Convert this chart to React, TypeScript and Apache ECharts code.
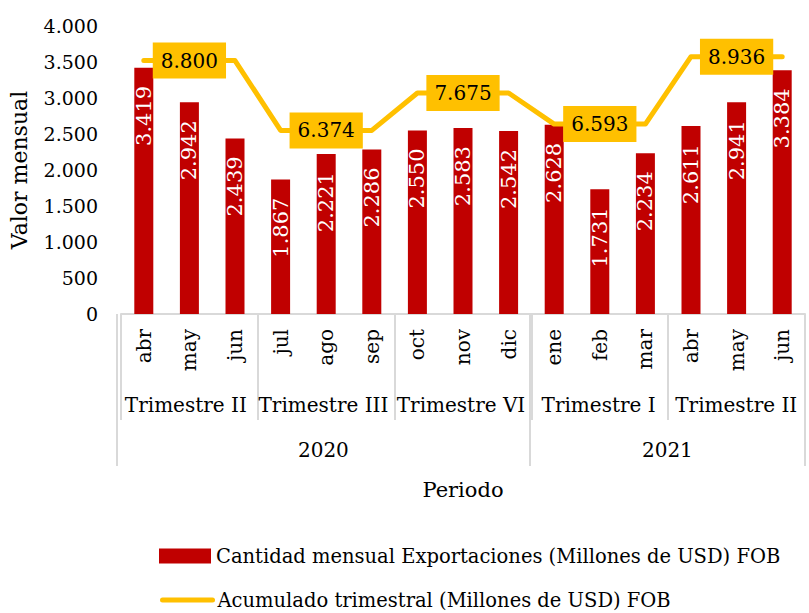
import React, { useEffect, useRef } from 'react';
import * as echarts from 'echarts';

const months = ['abr', 'may', 'jun', 'jul', 'ago', 'sep', 'oct', 'nov', 'dic', 'ene', 'feb', 'mar', 'abr', 'may', 'jun'];
const monthlyExports = [3419, 2942, 2439, 1867, 2221, 2286, 2550, 2583, 2542, 2628, 1731, 2234, 2611, 2941, 3384];
const quarters = ['Trimestre II', 'Trimestre III', 'Trimestre VI', 'Trimestre I', 'Trimestre II'];
const quarterTotals = [8800, 6374, 7675, 6593, 8936];
const years = ['2020', '2021'];
const yearMonthCounts = [9, 6];

const barName = 'Cantidad mensual Exportaciones (Millones de USD) FOB';
const lineName = 'Acumulado trimestral (Millones de USD) FOB';

const FONT = "'DejaVu Serif', serif";
const GRAY = '#d9d9d9';

const fmt = (n: number) => String(Math.round(n)).replace(/\B(?=(\d{3})+(?!\d))/g, '.');

export default function App() {
  const ref = useRef<HTMLDivElement>(null);
  useEffect(() => {
    if (!ref.current) return;
    const chart = echarts.init(ref.current, undefined, { renderer: 'svg' });

    const lineData = months.map((_, i) => ({
      value: quarterTotals[Math.floor(i / 3)],
      label: { show: i % 3 === 1 },
    }));
    let acc = 0;
    const yearCenters: number[] = [];
    const yearStarts: number[] = [];
    yearMonthCounts.forEach((c) => {
      yearStarts.push(acc);
      yearCenters.push(acc + c / 2);
      acc += c;
    });

    const g = { left: 117, right: 4, top: 26, bottom: 299 };

    chart.setOption({
      animation: false,
      textStyle: { fontFamily: FONT },
      grid: [g, g, g, g],
      legend: [
        {
          data: [barName],
          selectedMode: false,
          left: 154,
          top: 541,
          itemWidth: 52,
          itemHeight: 15,
          icon: 'rect',
          textStyle: { fontFamily: FONT, fontSize: 19.5, color: '#000' },
        },
        {
          data: [lineName],
          selectedMode: false,
          left: 155,
          top: 585,
          itemWidth: 50,
          itemHeight: 14,
          itemStyle: { opacity: 0 },
          lineStyle: { width: 5, cap: 'round' },
          textStyle: { fontFamily: FONT, fontSize: 19.5, color: '#000' },
        },
      ],
      xAxis: [
        {
          type: 'category',
          gridIndex: 0,
          data: months,
          axisLine: { show: true, lineStyle: { color: GRAY, width: 2 } },
          axisTick: {
            show: true,
            interval: (i: number) => i % 3 === 0,
            length: 106,
            lineStyle: { color: GRAY, width: 2 },
          },
          axisLabel: { rotate: 90, margin: 15, fontSize: 20, color: '#000', fontFamily: FONT, interval: 0 },
          name: 'Periodo',
          nameLocation: 'middle',
          nameGap: 165,
          nameTextStyle: { fontSize: 21, color: '#000', fontFamily: FONT },
        },
        {
          type: 'category',
          gridIndex: 1,
          data: quarters,
          axisLine: { show: false },
          axisTick: { show: false },
          axisLabel: { margin: 81, fontSize: 20, color: '#000', fontFamily: FONT, interval: 0 },
        },
        {
          type: 'value',
          gridIndex: 2,
          min: 0,
          max: months.length,
          interval: 1.5,
          axisLine: { show: false },
          axisTick: { show: false },
          splitLine: { show: false },
          axisLabel: {
            margin: 126,
            fontSize: 20,
            color: '#000',
            fontFamily: FONT,
            formatter: (v: number) => {
              const k = yearCenters.findIndex((c) => Math.abs(c - v) < 1e-6);
              return k >= 0 ? years[k] : '';
            },
          },
        },
        {
          type: 'category',
          gridIndex: 3,
          data: months,
          axisLine: { show: false },
          axisLabel: { show: false },
          axisTick: {
            show: true,
            interval: (i: number) => yearStarts.includes(i),
            length: 152,
            lineStyle: { color: GRAY, width: 2 },
          },
        },
      ],
      yAxis: [
        {
          type: 'value',
          gridIndex: 0,
          min: 0,
          max: 4000,
          interval: 500,
          axisLine: { show: false },
          axisTick: { show: false },
          splitLine: { show: false },
          axisLabel: { formatter: (v: number) => fmt(v), fontSize: 19, margin: 23, color: '#000', fontFamily: FONT },
          name: 'Valor mensual',
          nameLocation: 'middle',
          nameGap: 91,
          nameTextStyle: { fontSize: 22, color: '#000', fontFamily: FONT },
        },
        { type: 'value', gridIndex: 0, min: 0, max: 10000, show: false },
        { type: 'value', gridIndex: 1, min: 0, max: 1, show: false },
        { type: 'value', gridIndex: 2, min: 0, max: 1, show: false },
        { type: 'value', gridIndex: 3, min: 0, max: 1, show: false },
      ],
      series: [
        {
          type: 'bar',
          name: barName,
          xAxisIndex: 0,
          yAxisIndex: 0,
          data: monthlyExports,
          barWidth: 19,
          itemStyle: { color: '#C00000' },
          label: {
            show: true,
            position: 'insideTop',
            distance: 18,
            rotate: 90,
            align: 'right',
            verticalAlign: 'middle',
            color: '#fff',
            fontSize: 21,
            fontFamily: FONT,
            formatter: (p: any) => fmt(p.value),
          },
        },
        {
          type: 'line',
          name: lineName,
          xAxisIndex: 0,
          yAxisIndex: 1,
          data: lineData,
          symbol: 'circle',
          symbolSize: 2,
          showSymbol: true,
          itemStyle: { color: '#FFC000' },
          lineStyle: { color: '#FFC000', width: 5, cap: 'round', join: 'round' },
          z: 3,
          label: {
            show: false,
            position: 'inside',
            backgroundColor: '#FFC000',
            padding: [8, 8, 8, 8],
            color: '#000',
            fontSize: 20,
            fontFamily: FONT,
            formatter: (p: any) => fmt(p.value),
          },
        },
      ],
    });
    return () => chart.dispose();
  }, []);
  return <div ref={ref} style={{ position: 'fixed', left: 0, top: 0, width: 809, height: 613, background: '#fff' }} />;
}
